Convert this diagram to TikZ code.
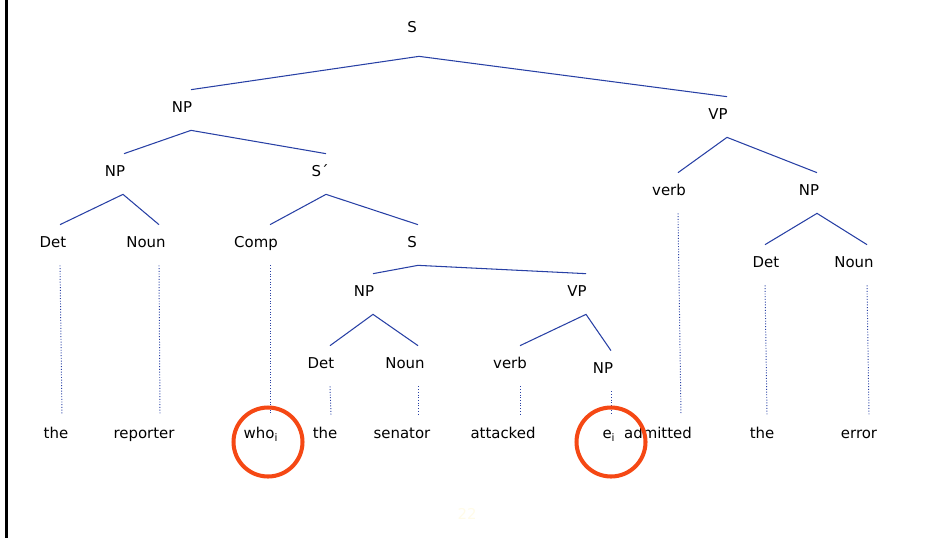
\documentclass[tikz,border=0pt]{standalone}
\usepackage{fontspec}
\setmainfont{DejaVu Sans}
\usepackage{tikz}
\usetikzlibrary{calc}
\usepackage{xcolor}
\definecolor{treeblue}{RGB}{40,64,165}
\definecolor{ringred}{RGB}{245,72,20}
\definecolor{pagenum}{RGB}{255,251,232}

\begin{document}
\begin{tikzpicture}[x=0.02cm, y=-0.02cm,
  cat/.style={anchor=base, inner sep=0pt, text height=0.44cm, text depth=0.36cm, font=\fontsize{8.5}{10}\selectfont},
  word/.style={anchor=base, inner sep=0pt, text height=0.46cm, text depth=0.1cm, font=\fontsize{8.5}{10}\selectfont},
  branch/.style={treeblue, line width=0.6pt},
  leaf/.style={treeblue, densely dotted, line width=0.55pt},
  ring/.style={draw=ringred, circle, line width=2.3pt, minimum size=1.38cm, inner sep=0pt}]
\useasboundingbox (0,0) rectangle (925,538);

% Page edge
\draw[line width=0.06cm] (6.5,0) -- (6.5,538);

% Categories
\node[cat] (s0) at (412,32) {S};
\node[cat] (np1) at (182,112) {NP};
\node[cat] (vp1) at (718,119) {VP};
\node[cat] (np2) at (115,176) {NP};
\node[cat] (sbar) at (320,176) {S´};
\node[cat] (det1) at (53,247) {Det};
\node[cat] (noun1) at (146,247) {Noun};
\node[cat] (comp) at (256,247) {Comp};
\node[cat] (s1) at (412,247) {S};
\node[cat] (np3) at (364,296) {NP};
\node[cat] (vp2) at (577,296) {VP};
\node[cat] (det2) at (321,368) {Det};
\node[cat] (noun2) at (405,368) {Noun};
\node[cat] (verb1) at (510,368) {verb};
\node[cat] (np4) at (603,373) {NP};
\node[cat] (verb2) at (669,195) {verb};
\node[cat] (np5) at (809,195) {NP};
\node[cat] (det3) at (766,267) {Det};
\node[cat] (noun3) at (854,267) {Noun};

% Words
\node[word] (w1) at (56,438) {the};
\node[word] (w2) at (144,438) {reporter};
\node[word] (w3) at (261,438) {who\textsubscript{i}};
\node[word] (w4) at (325,438) {the};
\node[word] (w5) at (402,438) {senator};
\node[word] (w6) at (503,438) {attacked};
\node[word] (w7) at (609,438) {e\textsubscript{i}};
\node[word] (w8) at (658,438) {admitted};
\node[word] (w9) at (762,438) {the};
\node[word] (w10) at (859,438) {error};

% Branches
\draw[branch] ($(np1.north)+(9,0)$) -- ($(s0.south)+(7,6)$) -- ($(vp1.north)+(9,0)$);
\draw[branch] ($(np2.north)+(9,0)$) -- ($(np1.south)+(9,0)$) -- ($(sbar.north)+(6,0)$);
\draw[branch] ($(det1.north)+(7,0)$) -- ($(np2.south)+(8,0)$) -- ($(noun1.north)+(13,0)$);
\draw[branch] ($(comp.north)+(14,0)$) -- ($(sbar.south)+(6,0)$) -- ($(s1.north)+(6,0)$);
\draw[branch] ($(np3.north)+(9,0)$) -- ($(s1.south)+(6,0)$) -- ($(vp2.north)+(9,0)$);
\draw[branch] ($(det2.north)+(9,0)$) -- ($(np3.south)+(9,0)$) -- ($(noun2.north)+(13,0)$);
\draw[branch] ($(verb1.north)+(10,0)$) -- ($(vp2.south)+(9,0)$) -- ($(np4.north)+(8,0)$);
\draw[branch] ($(verb2.north)+(9,0)$) -- ($(vp1.south)+(9,0)$) -- ($(np5.north)+(8,0)$);
\draw[branch] ($(det3.north)+(-1,0)$) -- ($(np5.south)+(8,0)$) -- ($(noun3.north)+(13,0)$);

% Leaves
\draw[leaf] ($(det1.south)+(7,0)$) -- ($(w1.north)+(6,0)$);
\draw[leaf] ($(noun1.south)+(13,0)$) -- ($(w2.north)+(16,0)$);
\draw[leaf] ($(comp.south)+(14,0)$) -- ($(w3.north)+(9,0)$);
\draw[leaf] ($(det2.south)+(9,0)$) -- ($(w4.north)+(6,0)$);
\draw[leaf] ($(noun2.south)+(13,0)$) -- ($(w5.north)+(16,0)$);
\draw[leaf] ($(verb1.south)+(10,0)$) -- ($(w6.north)+(17,0)$);
\draw[leaf] ($(np4.south)+(8,0)$) -- ($(w7.north)+(2,0)$);
\draw[leaf] ($(verb2.south)+(9,0)$) -- ($(w8.north)+(23,0)$);
\draw[leaf] ($(det3.south)+(-1,0)$) -- ($(w9.north)+(5,0)$);
\draw[leaf] ($(noun3.south)+(13,0)$) -- ($(w10.north)+(10,0)$);

% Co-indexed pair
\node[ring] (ring1) at (268,442) {};
\node[ring] (ring2) at (611,442) {};

% Slide number
\node[font=\fontsize{8.5}{10}\selectfont, text=pagenum] (pgno) at (467,514) {22};
\end{tikzpicture}
\end{document}
